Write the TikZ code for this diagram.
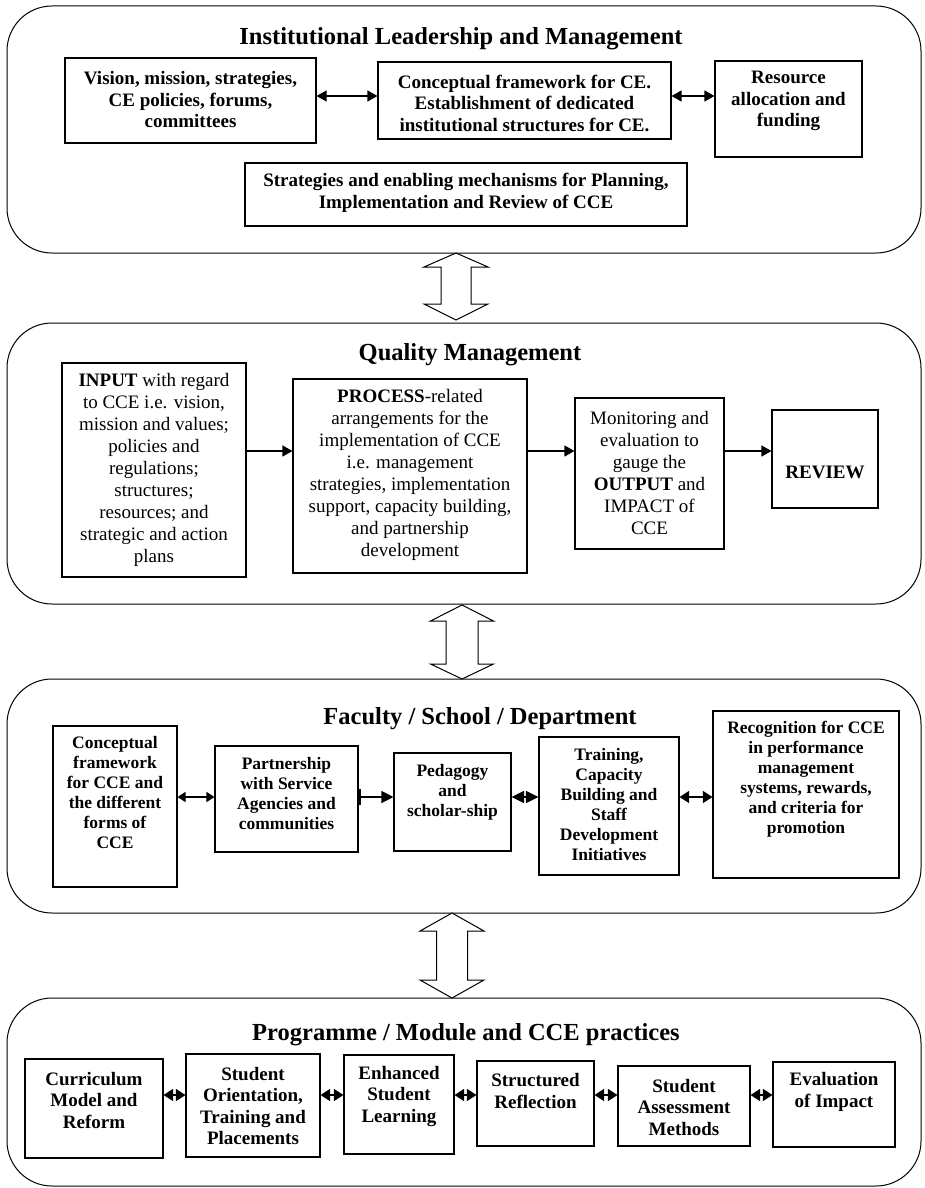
\documentclass[tikz,border=0pt]{standalone}
\usepackage{fontspec}
\setmainfont{Liberation Serif}
\usetikzlibrary{arrows.meta,fit}
\newcommand\bx[8]{%
  \node[box, fit={(#2,#3) (#4,#5)}] (#1) {};
  \node[txt, #7] (#1t) at ({(#2+#4)/2},#6) {#8};
}
\newcommand\hollow[7]{%
  \draw[line width=1pt, fill=white] ({#1-#6},#3) -- ({#1-#7},#3) -- (#1,#2) -- ({#1+#7},#3) -- ({#1+#6},#3)
    -- ({#1+#6},#4) -- ({#1+#7},#4) -- (#1,#5) -- ({#1-#7},#4) -- ({#1-#6},#4) -- cycle;
}
\begin{document}
\begin{tikzpicture}[x=1pt,y=-1pt,
  panel/.style={draw, line width=1pt, rounded corners=45pt, inner sep=0pt},
  box/.style={draw, line width=1.1pt, inner sep=0pt},
  txt/.style={align=center, inner sep=0pt},
  title/.style={inner sep=0pt, font=\fontsize{24.5}{28}\selectfont\bfseries},
  bnine/.style={font=\fontsize{19}{21.5}\selectfont\bfseries},
  rnine/.style={font=\fontsize{19}{22}\selectfont},
  bseven/.style={font=\fontsize{17.5}{20}\selectfont\bfseries},
  conn/.style={line width=1.2pt},
  ab/.style={conn, {Triangle[length=10pt,width=11pt]}-{Triangle[length=10pt,width=11pt]}},
  ar/.style={conn, -{Triangle[length=10pt,width=11pt]}},
  abs/.style={conn, {Triangle[length=8pt,width=10pt]}-{Triangle[length=8pt,width=10pt]}},
  abd/.style={conn, {Triangle[length=12.5pt,width=12pt]}-{Triangle[length=12.5pt,width=12pt]}},
  abp/.style={conn, {Triangle[length=9.5pt,width=12pt]}-{Triangle[length=9.5pt,width=12pt]}},
  bar/.style={conn, {Bar[width=16pt,line width=2.5pt]}-{Triangle[length=12pt,width=12pt]}}
]
\useasboundingbox (0,0) rectangle (924,1188);

% panels
\node[panel, fit={(7,6) (921,253)}] (P1) {};
\node[panel, fit={(7,323) (921,604)}] (P2) {};
\node[panel, fit={(7,679) (921,913)}] (P3) {};
\node[panel, fit={(7,998) (921,1186)}] (P4) {};

% hollow arrows between panels
\hollow{456}{253}{267}{304}{320}{15}{32}
\hollow{462}{605}{621}{664}{679}{16}{31.5}
\hollow{452}{913}{931}{980}{998}{15.5}{32}

% titles
\node[title] (T1) at (461,39) {Institutional Leadership and Management};
\node[title] (T2) at (470,355) {Quality Management};
\node[title] (T3) at (480,719) {Faculty / School / Department};
\node[title] (T4) at (466,1035) {Programme / Module and CCE practices};

% panel 1
\bx{A}{65}{58}{316}{143}{100}{bnine}{Vision, mission, strategies,\\CE policies, forums,\\committees}
\bx{B}{378}{62}{671}{139}{103}{bnine}{Conceptual framework for CE.\\Establishment of dedicated\\institutional structures for CE.}
\bx{C}{715}{61}{862}{157}{101}{bnine}{Resource\\allocation and\\funding}
\bx{D}{245}{163}{687}{226}{193}{bnine}{Strategies and enabling mechanisms for Planning,\\Implementation and Review of CCE}
\coordinate (r1) at (0,96);
\draw[ab] (A.east|-r1) -- (B.west|-r1);
\draw[ab] (B.east|-r1) -- (C.west|-r1);

% panel 2
\bx{I}{62}{363}{246}{577}{470}{rnine}{\textbf{INPUT} with regard\\to CCE i.e. vision,\\mission and values;\\policies and\\regulations;\\structures;\\resources; and\\strategic and action\\plans}
\bx{PR}{293}{379}{527}{573}{475}{rnine}{\textbf{PROCESS}-related\\arrangements for the\\implementation of CCE\\i.e. management\\strategies, implementation\\support, capacity building,\\and partnership\\development}
\bx{M}{575}{398}{724}{549}{473}{rnine}{Monitoring and\\evaluation to\\gauge the\\\textbf{OUTPUT} and\\IMPACT of\\CCE}
\bx{R}{772}{410}{878}{508}{472}{rnine}{\textbf{REVIEW}}
\coordinate (r2) at (0,451);
\draw[ar] (I.east|-r2) -- (PR.west|-r2);
\draw[ar] (PR.east|-r2) -- (M.west|-r2);
\draw[ar] (M.east|-r2) -- (R.west|-r2);

% panel 3
\bx{F1}{53}{726}{177}{887}{793}{bseven}{Conceptual\\framework\\for CCE and\\the different\\forms of\\CCE}
\bx{F2}{215}{746}{358}{852}{794}{bseven}{Partnership\\with Service\\Agencies and\\communities}
\bx{F3}{394}{753}{511}{851}{792}{bseven}{Pedagogy\\and\\scholar-ship}
\bx{F4}{539}{737}{679}{875}{805}{bseven}{Training,\\Capacity\\Building and\\Staff\\Development\\Initiatives}
\bx{F5}{713}{711}{899}{878}{779}{bseven}{Recognition for CCE\\in performance\\management\\systems, rewards,\\and criteria for\\promotion}
\coordinate (r3) at (0,797);
\draw[abs] (F1.east|-r3) -- (F2.west|-r3);
\draw[bar] (F2.east|-r3) -- (F3.west|-r3);
\draw[abd] (F3.east|-r3) -- (F4.west|-r3);
\draw[abp] (F4.east|-r3) -- (F5.west|-r3);

% panel 4
\bx{G1}{25}{1059}{163}{1158}{1100}{bnine}{Curriculum\\Model and\\Reform}
\bx{G2}{186}{1054}{320}{1157}{1106}{bnine}{Student\\Orientation,\\Training and\\Placements}
\bx{G3}{344}{1055}{454}{1154}{1096}{bnine}{Enhanced\\Student\\Learning}
\bx{G4}{477}{1061}{594}{1146}{1091}{bnine}{Structured\\Reflection}
\bx{G5}{618}{1066}{750}{1146}{1107}{bnine}{Student\\Assessment\\Methods}
\bx{G6}{773}{1062}{895}{1147}{1092}{bnine}{Evaluation\\of Impact}
\coordinate (r4) at (0,1095);
\draw[abp] (G1.east|-r4) -- (G2.west|-r4);
\draw[abp] (G2.east|-r4) -- (G3.west|-r4);
\draw[abp] (G3.east|-r4) -- (G4.west|-r4);
\draw[abp] (G4.east|-r4) -- (G5.west|-r4);
\draw[abp] (G5.east|-r4) -- (G6.west|-r4);
\end{tikzpicture}
\end{document}
